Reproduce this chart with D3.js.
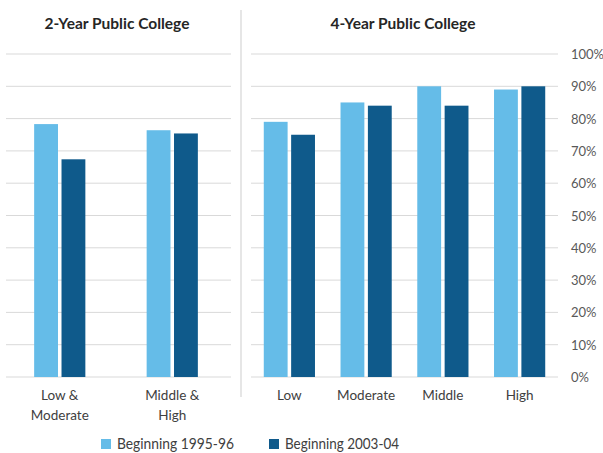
<!DOCTYPE html>
<html><head><meta charset="utf-8">
<script src="https://cdn.jsdelivr.net/npm/d3@7"></script>
<style>body{margin:0;background:#fff}svg{display:block;font-family:Lato,"Open Sans",sans-serif}</style>
</head><body><svg id="c" width="603" height="453"></svg>
<script>
const seriesNames = ["Beginning 1995-96", "Beginning 2003-04"];
const colors = ["#65BCE8", "#0F5A8B"];
const cats2 = ["Low & Moderate", "Middle & High"];
const labels2 = [["Low &", "Moderate"], ["Middle &", "High"]];
const v1995_2yr = [0.783, 0.764];
const v2003_2yr = [0.674, 0.754];
const cats4 = ["Low", "Moderate", "Middle", "High"];
const v1995_4yr = [0.79, 0.85, 0.90, 0.89];
const v2003_4yr = [0.75, 0.84, 0.84, 0.90];
const yTicks = [0, 0.1, 0.2, 0.3, 0.4, 0.5, 0.6, 0.7, 0.8, 0.9, 1.0];

const svg = d3.select("#c");
const y = d3.scaleLinear().domain([0, 1]).range([377, 54]);

function panel(title, titleX, gx0, gx1, bx0, bx1, cats, labels, a, b) {
  const g = svg.append("g");
  g.selectAll("line.grid").data(yTicks).join("line")
    .attr("x1", gx0).attr("x2", gx1)
    .attr("y1", d => y(d)).attr("y2", d => y(d))
    .attr("stroke", "#d9d9d9").attr("stroke-width", 1);
  const x = d3.scaleBand().domain(cats).range([bx0, bx1]);
  const bw = 22.3, gap = 6.6;
  const sub = d3.scaleBand().domain([0, 1]).range([-(bw + gap / 2), bw + gap / 2]).paddingInner(gap / (2 * bw + gap));
  [a, b].forEach((vals, si) => {
    g.selectAll("rect.s" + si).data(cats).join("rect")
      .attr("x", (c) => x(c) + x.bandwidth() / 2 + sub(si))
      .attr("width", sub.bandwidth())
      .attr("y", (c, i) => y(vals[i]))
      .attr("height", (c, i) => y(0) - y(vals[i]))
      .attr("fill", colors[si]);
  });
  cats.forEach((c, i) => {
    const t = g.append("text").attr("text-anchor", "middle").attr("fill", "#404040")
      .attr("font-size", 13.5).attr("x", x(c) + x.bandwidth() / 2);
    labels[i].forEach((ln, k) => t.append("tspan").attr("x", x(c) + x.bandwidth() / 2).attr("y", 400 + k * 20).text(ln));
  });
  g.append("text").attr("x", titleX).attr("y", 29).attr("text-anchor", "middle")
    .attr("font-size", 15.5).attr("font-weight", "bold").attr("fill", "#262626").text(title);
}

panel("2-Year Public College", 117, 6, 231, 3.5, 228.5, cats2, labels2, v1995_2yr, v2003_2yr);
panel("4-Year Public College", 403, 251, 558, 251, 558, cats4, cats4.map(c => [c]), v1995_4yr, v2003_4yr);

svg.append("line").attr("x1", 241).attr("x2", 241).attr("y1", 10).attr("y2", 397)
  .attr("stroke", "#d9d9d9").attr("stroke-width", 1.3);

const axis = d3.axisRight(y).tickValues(yTicks).tickFormat(d3.format(".0%")).tickSize(0);
const ag = svg.append("g").attr("transform", "translate(571,0)").call(axis);
ag.select(".domain").remove();
ag.selectAll("text").attr("x", 0).attr("dy", "0.35em").attr("font-size", 13)
  .attr("fill", "#595959").attr("font-family", "Lato, 'Open Sans', sans-serif");

const leg = [{x: 101, tx: 117, w: 117}, {x: 269, tx: 285, w: 114}];
seriesNames.forEach((n, i) => {
  svg.append("rect").attr("x", leg[i].x).attr("y", 439).attr("width", 10).attr("height", 10).attr("fill", colors[i]);
  svg.append("text").attr("x", leg[i].tx).attr("y", 449).attr("font-size", 16)
    .attr("textLength", leg[i].w).attr("lengthAdjust", "spacingAndGlyphs")
    .attr("fill", "#404040").text(n);
});
</script></body></html>
